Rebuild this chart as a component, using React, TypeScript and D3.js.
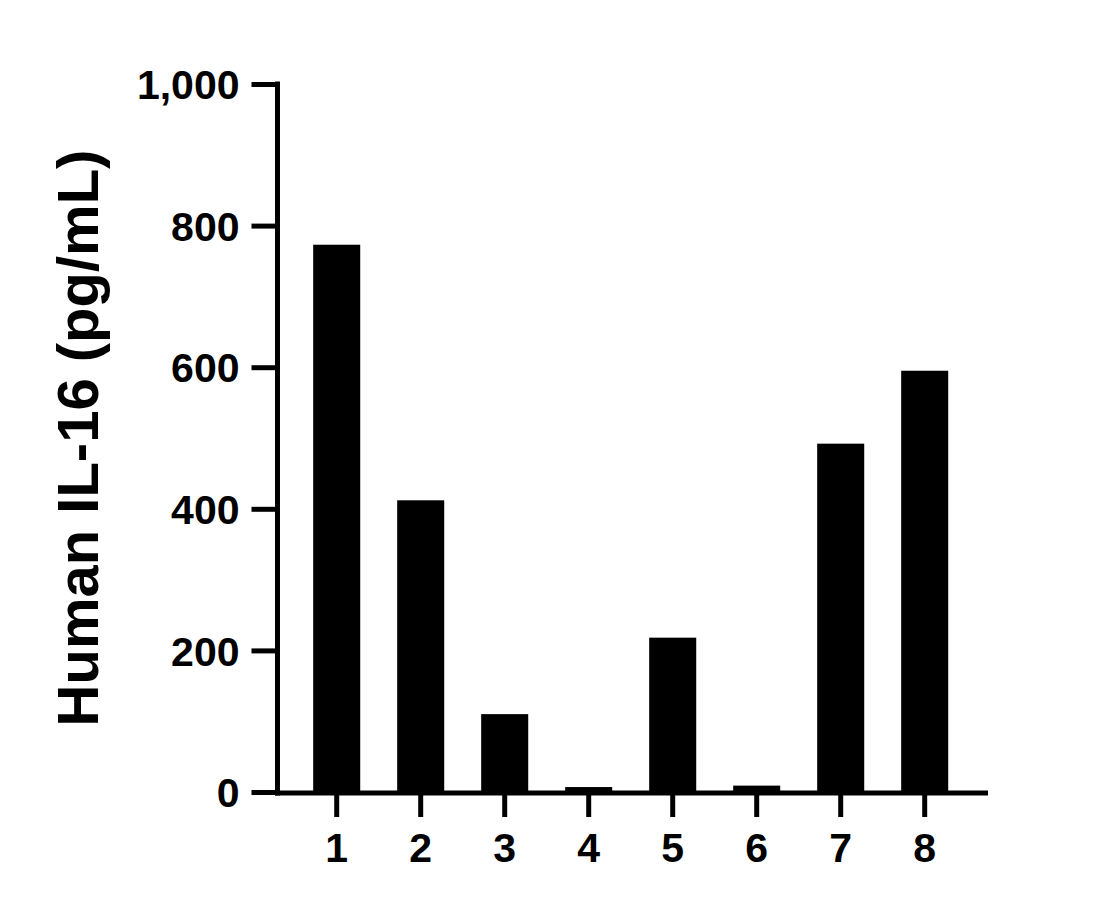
import React, { useEffect, useRef } from 'react';
import * as d3 from 'd3';

const categories = ['1', '2', '3', '4', '5', '6', '7', '8'];
const values = [773, 412, 110, 7, 218, 9, 492, 595];
const yTicks = [0, 200, 400, 600, 800, 1000];
const yTitle = 'Human IL-16 (pg/mL)';

const width = 1119;
const height = 910;
const font = "'Liberation Sans', Arial, sans-serif";

const App: React.FC = () => {
    const svgRef = useRef<SVGSVGElement | null>(null);

    useEffect(() => {
        const svg = d3.select(svgRef.current);
        svg.selectAll('*').remove();

        const xScale = d3
            .scaleBand()
            .domain(categories)
            .range([294.7, 966.7])
            .paddingInner(0.44)
            .paddingOuter(0.22);

        const yScale = d3.scaleLinear().domain([0, 1000]).range([792, 84]);

        // bars
        svg
            .append('g')
            .selectAll('rect')
            .data(values)
            .join('rect')
            .attr('x', (_, i) => xScale(categories[i])!)
            .attr('width', xScale.bandwidth())
            .attr('y', (d) => yScale(d))
            .attr('height', (d) => yScale(0) - yScale(d))
            .attr('fill', '#000');

        // y axis
        const yAxis = svg
            .append('g')
            .attr('transform', 'translate(277.5,0)')
            .call(
                d3
                    .axisLeft(yScale)
                    .tickValues(yTicks)
                    .tickSize(26)
                    .tickPadding(12)
                    .tickFormat(d3.format(','))
            );
        yAxis.select('.domain').remove();
        yAxis.selectAll('.tick line').attr('stroke', '#000').attr('stroke-width', 5);
        yAxis
            .selectAll('.tick text')
            .attr('fill', '#000')
            .attr('font-family', font)
            .attr('font-weight', 'bold')
            .attr('font-size', 41)
            .attr('dy', '0.36em');
        yAxis
            .append('line')
            .attr('x1', 0)
            .attr('x2', 0)
            .attr('y1', yScale(1000) - 2.5)
            .attr('y2', yScale(0) + 3.5)
            .attr('stroke', '#000')
            .attr('stroke-width', 5);

        // x axis
        const xAxis = svg
            .append('g')
            .attr('transform', 'translate(0,793)')
            .call(d3.axisBottom(xScale).tickSize(24).tickPadding(16));
        xAxis.select('.domain').remove();
        xAxis.selectAll('.tick line').attr('stroke', '#000').attr('stroke-width', 5);
        xAxis
            .selectAll('.tick text')
            .attr('fill', '#000')
            .attr('font-family', font)
            .attr('font-weight', 'bold')
            .attr('font-size', 41);
        xAxis
            .append('line')
            .attr('x1', 275)
            .attr('x2', 988)
            .attr('y1', 0)
            .attr('y2', 0)
            .attr('stroke', '#000')
            .attr('stroke-width', 5);

        // y title
        svg
            .append('text')
            .attr('transform', 'translate(98,438) rotate(-90)')
            .attr('text-anchor', 'middle')
            .attr('font-family', font)
            .attr('font-weight', 'bold')
            .attr('font-size', 58)
            .attr('fill', '#000')
            .text(yTitle);
    }, []);

    return (
        <svg
            ref={svgRef}
            width={width}
            height={height}
            style={{ position: 'absolute', left: 0, top: 0, background: '#fff' }}
        ></svg>
    );
};

export default App;
